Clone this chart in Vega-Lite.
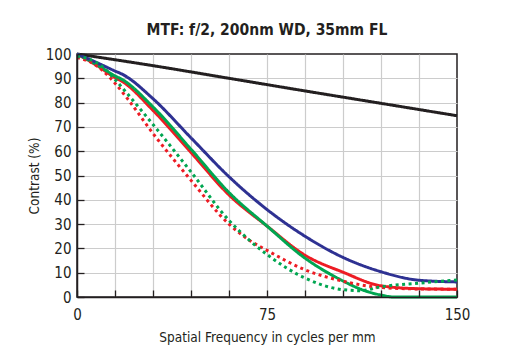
{
  "$schema": "https://vega.github.io/schema/vega-lite/v6.json",
  "width": 380,
  "height": 243,
  "autosize": "none",
  "padding": {"left": 77, "top": 54, "right": 57, "bottom": 60},
  "background": "white",
  "title": {
    "text": "MTF: f/2, 200nm WD, 35mm FL",
    "font": "DejaVu Sans Condensed",
    "fontSize": 15.5,
    "fontWeight": "bold",
    "color": "#231f20",
    "anchor": "middle",
    "offset": 9
  },
  "config": {"view": {"stroke": "#231f20", "strokeWidth": 1.5}},
  "data": {
    "values": [
      {"series": "diff", "style": "solid", "f": 0, "c": 100},
      {"series": "diff", "style": "solid", "f": 30, "c": 95.2},
      {"series": "diff", "style": "solid", "f": 60, "c": 90},
      {"series": "diff", "style": "solid", "f": 90, "c": 84.8},
      {"series": "diff", "style": "solid", "f": 120, "c": 79.7},
      {"series": "diff", "style": "solid", "f": 150, "c": 74.6},
      {"series": "red", "style": "solid", "f": 0, "c": 100},
      {"series": "red", "style": "solid", "f": 7.5, "c": 95.5},
      {"series": "red", "style": "solid", "f": 15, "c": 90.3},
      {"series": "red", "style": "solid", "f": 18, "c": 88.6},
      {"series": "red", "style": "solid", "f": 30, "c": 76.8},
      {"series": "red", "style": "solid", "f": 45, "c": 59.5},
      {"series": "red", "style": "solid", "f": 60, "c": 42},
      {"series": "red", "style": "solid", "f": 75, "c": 29.2},
      {"series": "red", "style": "solid", "f": 90, "c": 17.2},
      {"series": "red", "style": "solid", "f": 105, "c": 10.2},
      {"series": "red", "style": "solid", "f": 120, "c": 4.6},
      {"series": "red", "style": "solid", "f": 135, "c": 3.4},
      {"series": "red", "style": "solid", "f": 150, "c": 3.2},
      {"series": "green", "style": "solid", "f": 0, "c": 100},
      {"series": "green", "style": "solid", "f": 7.5, "c": 95.8},
      {"series": "green", "style": "solid", "f": 15, "c": 91},
      {"series": "green", "style": "solid", "f": 18, "c": 89.4},
      {"series": "green", "style": "solid", "f": 30, "c": 78.2},
      {"series": "green", "style": "solid", "f": 45, "c": 60.8},
      {"series": "green", "style": "solid", "f": 60, "c": 43},
      {"series": "green", "style": "solid", "f": 75, "c": 29.2},
      {"series": "green", "style": "solid", "f": 90, "c": 16},
      {"series": "green", "style": "solid", "f": 105, "c": 6.6},
      {"series": "green", "style": "solid", "f": 112, "c": 3.2},
      {"series": "green", "style": "solid", "f": 120, "c": 0.8},
      {"series": "green", "style": "solid", "f": 125, "c": 0},
      {"series": "green", "style": "solid", "f": 150, "c": 0},
      {"series": "blue", "style": "solid", "f": 0, "c": 100},
      {"series": "blue", "style": "solid", "f": 7.5, "c": 96.6},
      {"series": "blue", "style": "solid", "f": 15, "c": 93},
      {"series": "blue", "style": "solid", "f": 18, "c": 91.6},
      {"series": "blue", "style": "solid", "f": 30, "c": 81.6},
      {"series": "blue", "style": "solid", "f": 45, "c": 65.5},
      {"series": "blue", "style": "solid", "f": 60, "c": 49.5},
      {"series": "blue", "style": "solid", "f": 75, "c": 36},
      {"series": "blue", "style": "solid", "f": 90, "c": 25},
      {"series": "blue", "style": "solid", "f": 105, "c": 16.3},
      {"series": "blue", "style": "solid", "f": 120, "c": 10.4},
      {"series": "blue", "style": "solid", "f": 135, "c": 6.9},
      {"series": "blue", "style": "solid", "f": 150, "c": 6.2},
      {"series": "redDot", "style": "dotted", "f": 0, "c": 98.5},
      {"series": "redDot", "style": "dotted", "f": 5, "c": 96.8},
      {"series": "redDot", "style": "dotted", "f": 10, "c": 93.3},
      {"series": "redDot", "style": "dotted", "f": 15, "c": 88},
      {"series": "redDot", "style": "dotted", "f": 20, "c": 81.5},
      {"series": "redDot", "style": "dotted", "f": 30, "c": 67.3},
      {"series": "redDot", "style": "dotted", "f": 45, "c": 48},
      {"series": "redDot", "style": "dotted", "f": 60, "c": 30},
      {"series": "redDot", "style": "dotted", "f": 68, "c": 23.4},
      {"series": "redDot", "style": "dotted", "f": 75, "c": 19.2},
      {"series": "redDot", "style": "dotted", "f": 90, "c": 11.2},
      {"series": "redDot", "style": "dotted", "f": 105, "c": 6.5},
      {"series": "redDot", "style": "dotted", "f": 120, "c": 3.9},
      {"series": "redDot", "style": "dotted", "f": 135, "c": 3.3},
      {"series": "redDot", "style": "dotted", "f": 150, "c": 3.2},
      {"series": "greenDot", "style": "dotted", "f": 0, "c": 99},
      {"series": "greenDot", "style": "dotted", "f": 5, "c": 97.8},
      {"series": "greenDot", "style": "dotted", "f": 10, "c": 94.8},
      {"series": "greenDot", "style": "dotted", "f": 15, "c": 89.5},
      {"series": "greenDot", "style": "dotted", "f": 20, "c": 83.5},
      {"series": "greenDot", "style": "dotted", "f": 30, "c": 71},
      {"series": "greenDot", "style": "dotted", "f": 45, "c": 51.5},
      {"series": "greenDot", "style": "dotted", "f": 60, "c": 31.5},
      {"series": "greenDot", "style": "dotted", "f": 68, "c": 23.4},
      {"series": "greenDot", "style": "dotted", "f": 75, "c": 17.5},
      {"series": "greenDot", "style": "dotted", "f": 90, "c": 7.8},
      {"series": "greenDot", "style": "dotted", "f": 105, "c": 3},
      {"series": "greenDot", "style": "dotted", "f": 112, "c": 2.6},
      {"series": "greenDot", "style": "dotted", "f": 120, "c": 4.2},
      {"series": "greenDot", "style": "dotted", "f": 135, "c": 5.7},
      {"series": "greenDot", "style": "dotted", "f": 150, "c": 7}
    ]
  },
  "layer": [
    {
      "mark": {"type": "line", "strokeWidth": 3, "interpolate": "monotone"},
      "encoding": {
        "x": {
          "field": "f", "type": "quantitative",
          "scale": {"domain": [0, 150], "nice": false},
          "axis": {
            "title": "Spatial Frequency in cycles per mm",
            "values": [0, 15, 30, 45, 60, 75, 90, 105, 120, 135, 150],
            "labelExpr": "datum.value % 75 === 0 ? datum.label : ''",
            "labelOverlap": false,
            "labelFlush": false,
            "grid": false,
            "tickSize": -7,
            "tickColor": "#231f20",
            "tickWidth": 1.3,
            "domainColor": "#231f20",
            "domainWidth": 1.5,
            "labelPadding": 17,
            "titlePadding": 8,
            "zindex": 1,
            "labelFont": "DejaVu Sans Condensed",
            "labelFontSize": 15,
            "labelColor": "#231f20",
            "titleFont": "DejaVu Sans Condensed",
            "titleFontSize": 13.5,
            "titleFontWeight": "normal",
            "titleColor": "#231f20"
          }
        },
        "y": {
          "field": "c", "type": "quantitative",
          "scale": {"domain": [0, 100], "nice": false},
          "axis": {
            "title": "Contrast (%)",
            "values": [0, 10, 20, 30, 40, 50, 60, 70, 80, 90, 100],
            "labelOverlap": false,
            "labelFlush": false,
            "grid": false,
            "tickSize": -7,
            "tickColor": "#231f20",
            "tickWidth": 1.3,
            "domainColor": "#231f20",
            "domainWidth": 1.5,
            "labelPadding": 13,
            "titlePadding": 4,
            "zindex": 1,
            "labelFont": "DejaVu Sans Condensed",
            "labelFontSize": 15,
            "labelColor": "#231f20",
            "titleFont": "DejaVu Sans Condensed",
            "titleFontSize": 13.5,
            "titleFontWeight": "normal",
            "titleColor": "#231f20"
          }
        },
        "color": {
          "field": "series", "type": "nominal", "legend": null,
          "scale": {
            "domain": ["diff", "red", "green", "blue", "redDot", "greenDot"],
            "range": ["#231f20", "#ed1c24", "#00a651", "#2e3192", "#ed1c24", "#00a651"]
          }
        },
        "strokeDash": {
          "field": "style", "type": "nominal", "legend": null,
          "scale": {"domain": ["solid", "dotted"], "range": [[1, 0], [3, 3.5]]}
        },
        "order": {"field": "f", "type": "quantitative"}
      }
    },
    {
      "mark": {"type": "line", "opacity": 0},
      "encoding": {
        "x": {
          "field": "f", "type": "quantitative",
          "axis": {"orient": "top", "title": null, "labels": false, "grid": false, "domain": false, "zindex": 0, "tickSize": -243, "tickColor": "#cccccc", "tickWidth": 1.2, "values": [15, 30, 45, 60, 75, 90, 105, 120, 135]}
        },
        "y": {
          "field": "c", "type": "quantitative",
          "axis": {"orient": "right", "title": null, "labels": false, "grid": false, "domain": false, "zindex": 0, "tickSize": -380, "tickColor": "#cccccc", "tickWidth": 1.2, "values": [10, 20, 30, 40, 50, 60, 70, 80, 90]}
        },
        "detail": {"field": "series"}
      }
    }
  ],
  "resolve": {"axis": {"x": "independent", "y": "independent"}}
}
